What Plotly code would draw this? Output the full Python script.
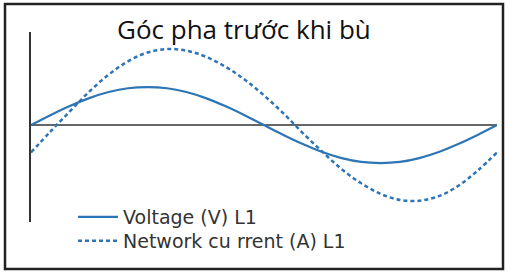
import plotly.graph_objects as go

# phase angle (degrees) over one period
angle_deg = [0, 15, 30, 45, 60, 75, 90, 105, 120, 135, 150, 165, 180,
             195, 210, 225, 240, 255, 270, 285, 300, 315, 330, 345, 360]
# Voltage (V) L1, relative units
voltage = [0.0, 0.26, 0.5, 0.71, 0.87, 0.97, 1.0, 0.97, 0.87, 0.71, 0.5, 0.26, 0.0,
           -0.26, -0.5, -0.71, -0.87, -0.97, -1.0, -0.97, -0.87, -0.71, -0.5, -0.26, 0.0]
# Network current (A) L1, relative units (lagging)
current = [-0.72, -0.17, 0.36, 0.88, 1.33, 1.68, 1.91, 2.0, 1.96, 1.8, 1.54, 1.2, 0.78,
           0.31, -0.21, -0.7, -1.16, -1.53, -1.81, -1.97, -1.99, -1.87, -1.6, -1.2, -0.72]

title_text = "Góc pha trước khi bù"
series_names = ["Voltage (V) L1", "Network cu rrent (A) L1"]

BLUE = "#2E75B6"

fig = go.Figure()
fig.add_trace(go.Scatter(x=angle_deg, y=voltage, mode="lines", name=series_names[0],
                         legend="legend",
                         line=dict(color=BLUE, width=2.2, shape="spline")))
fig.add_trace(go.Scatter(x=angle_deg, y=current, mode="lines", name=series_names[1],
                         legend="legend2",
                         line=dict(color=BLUE, width=2.5, dash="4px,3px", shape="spline")))

W, H = 506, 274
ml, mr, mt, mb = 31, 9, 32, 52
pw, ph = W - ml - mr, H - mt - mb

def px_x(p):
    return (p - ml) / pw

def px_y(p):
    return (H - mb - p) / ph

leg_font = dict(family="DejaVu Sans", size=19, color="#333333")
leg_common = dict(xanchor="left", yanchor="middle", font=leg_font,
                  bgcolor="rgba(0,0,0,0)", borderwidth=0, itemwidth=40)

fig.update_layout(
    width=W, height=H,
    margin=dict(l=ml, r=mr, t=mt, b=mb, pad=0),
    paper_bgcolor="white", plot_bgcolor="white",
    showlegend=True,
    legend=dict(x=px_x(73), y=px_y(217), **leg_common),
    legend2=dict(x=px_x(73), y=px_y(241), **leg_common),
    xaxis=dict(range=[0, 360], visible=True, showgrid=False, zeroline=False,
               showticklabels=False, ticks="", showline=False),
    yaxis=dict(range=[-2.55, 2.45], showgrid=False, zeroline=True,
               zerolinecolor="#666666", zerolinewidth=2,
               showticklabels=False, ticks="", showline=True,
               linecolor="#333333", linewidth=1.5),
    shapes=[dict(type="rect", xref="paper", yref="paper",
                 x0=px_x(5), x1=px_x(503), y0=px_y(269), y1=px_y(4),
                 line=dict(color="#222222", width=2.5), fillcolor="rgba(0,0,0,0)",
                 layer="below")],
    annotations=[dict(text=title_text, xref="paper", yref="paper",
                      x=px_x(244), y=px_y(29), xanchor="center", yanchor="middle",
                      showarrow=False,
                      font=dict(family="Open Sans", size=26, color="#111111"))],
)

fig.write_html("out.html")
